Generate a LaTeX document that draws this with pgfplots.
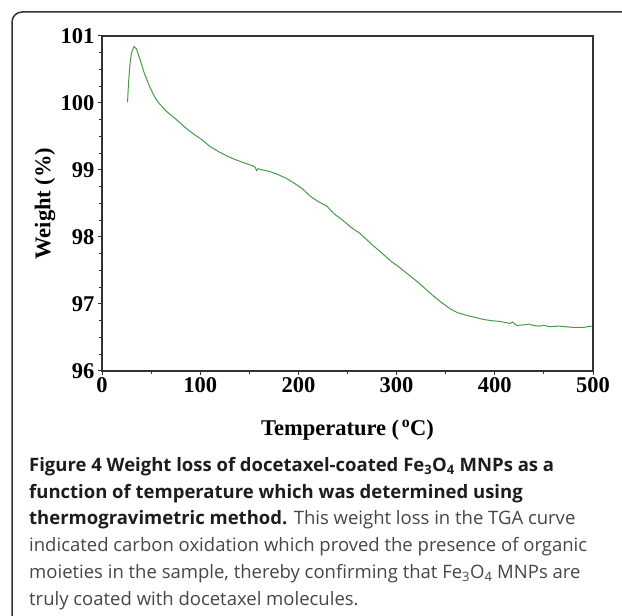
\documentclass[border=0pt]{standalone}
\usepackage{fontspec}
\setmainfont{Liberation Serif}
\newfontfamily\capfont{Open Sans}
\usepackage{pgfplots}
\pgfplotsset{compat=1.18}
\definecolor{tgagreen}{RGB}{70,155,70}
\definecolor{framegray}{RGB}{50,50,50}
\definecolor{captext}{RGB}{70,70,70}
\definecolor{capbold}{RGB}{30,28,28}

\begin{document}
\begin{tikzpicture}[x=1bp,y=1bp]
\begin{axis}[
  at={(102bp,245bp)}, anchor=south west,
  scale only axis, width=491bp, height=335bp,
  xmin=0, xmax=500, ymin=96, ymax=101,
  xtick={0,100,...,500}, ytick={96,97,...,101},
  minor xtick={50,150,...,450},
  minor ytick={96.25,96.5,...,101},
  tick pos=left, tick align=outside,
  major tick length=4bp, minor tick length=3bp,
  axis line style={framegray, line width=1.3bp},
  every tick/.style={framegray, line width=1bp},
  /pgf/number format/assume math mode=true,
  ticklabel style={font=\fontsize{22.5bp}{26bp}\selectfont\bfseries},
  label style={font=\fontsize{22.5bp}{26bp}\selectfont\bfseries},
  xticklabel style={yshift=1bp},
  xlabel={Temperature (\textsuperscript{\,o}C)},
  ylabel={Weight (\%)},
  xlabel style={at={(axis description cs:0.5,-0.176)}, anchor=center},
  ylabel style={at={(axis description cs:-0.116,0.5)}, anchor=center},
]
\addplot[tgagreen, line width=1bp] coordinates {
  (26,100.01) (27,100.30) (28.5,100.58) (30,100.75) (32.6,100.84)
  (35,100.81) (38.7,100.65) (43,100.45) (48.9,100.23) (54,100.08)
  (59,99.98) (66,99.87) (76,99.75) (85,99.63) (93,99.54)
  (102,99.45) (110,99.35) (118,99.28) (127,99.21) (135,99.16)
  (144,99.11) (150,99.08) (154,99.06) (156,99.04) (157.5,98.99)
  (159,99.02) (161,99.01) (170,98.98) (178,98.94) (187,98.88)
  (195,98.81) (204,98.72) (212,98.61) (220,98.53) (229,98.46)
  (236,98.35) (246,98.24) (254,98.14) (263,98.05) (274,97.90)
  (286.5,97.74) (295,97.63) (303.5,97.54) (312,97.44) (320.5,97.34)
  (329,97.23) (337.4,97.12) (346,97.02) (354.4,96.93) (362,96.87)
  (371.4,96.83) (380,96.80) (388.3,96.77) (397,96.75) (405.3,96.74)
  (415.5,96.71) (418,96.73) (422.3,96.68) (430,96.69) (435,96.70)
  (439,96.68) (445,96.67) (450,96.68) (456,96.66) (465,96.67)
  (473,96.66) (480,96.65) (490,96.65) (498.7,96.67)
};
\end{axis}
% caption box outline
\draw[framegray, line width=1.5bp, rounded corners=10bp]
  (12bp,-10bp) -- (12bp,604bp) -- (640bp,604bp);
% caption text
\begin{scope}[every node/.style={anchor=base west, inner sep=0pt,
    font=\capfont\fontsize{18.5bp}{22bp}\selectfont}]
\node[text=capbold] at (29bp,144.5bp) {\bfseries Figure 4 Weight loss of docetaxel-coated Fe\textsubscript{3}O\textsubscript{4} MNPs as a};
\node[text=capbold] at (29bp,117.8bp) {\bfseries function of temperature which was determined using};
\node at (29bp,91.1bp) {\textcolor{capbold}{\bfseries thermogravimetric method.} \textcolor{captext}{This weight loss in the TGA curve}};
\node[text=captext] at (29bp,64.4bp) {indicated carbon oxidation which proved the presence of organic};
\node[text=captext] at (29bp,37.7bp) {moieties in the sample, thereby confirming that Fe\textsubscript{3}O\textsubscript{4} MNPs are};
\node[text=captext] at (29bp,11bp) {truly coated with docetaxel molecules.};
\end{scope}
\pgfresetboundingbox
\useasboundingbox (0,0) rectangle (622bp,616bp);
\end{tikzpicture}
\end{document}
